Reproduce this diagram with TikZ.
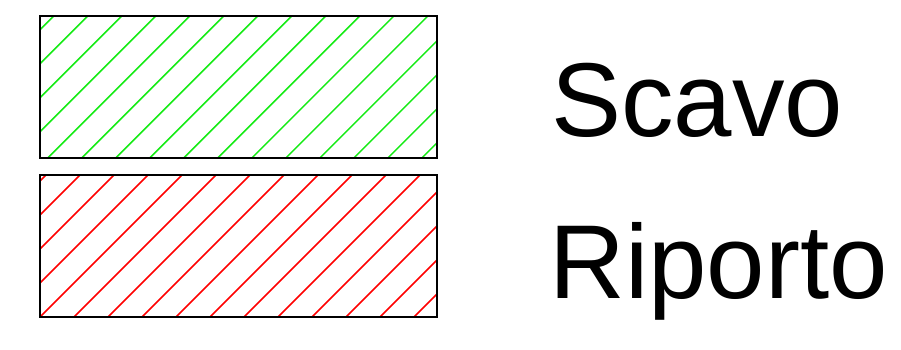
\documentclass[tikz,border=0pt]{standalone}
\usepackage{fontspec}
\setmainfont{Liberation Sans}
\definecolor{hatchgreen}{RGB}{20,235,20}
\definecolor{hatchred}{RGB}{255,0,0}
\tikzset{
  frame/.style={draw=black,line width=2pt},
  hatchline/.style={line width=1.5pt},
  legendtext/.style={font=\fontsize{105}{110}\selectfont,anchor=base west,inner sep=0pt}
}
\begin{document}
\begin{tikzpicture}[x=1pt,y=-1pt]
\useasboundingbox (0,0) rectangle (901,349);
% top rectangle (Scavo)
\begin{scope}
  \clip (40,16) rectangle (437,158);
  \foreach \k in {1,...,18}{
    \pgfmathsetmacro{\c}{1.8+34*\k}
    \draw[hatchline,hatchgreen] ({\c-10},10) -- ({\c-165},165);
  }
\end{scope}
\draw[frame] (40,16) rectangle (437,158);
% bottom rectangle (Riporto)
\begin{scope}
  \clip (40,174.5) rectangle (437,317);
  \foreach \k in {5,...,23}{
    \pgfmathsetmacro{\c}{17+34*\k}
    \draw[hatchline,hatchred] ({\c-170},170) -- ({\c-325},325);
  }
\end{scope}
\draw[frame] (40,174.5) rectangle (437,317);
\node[legendtext] (scavo) at (551,136.7) {Scavo};
\node[legendtext] (riporto) at (549,298.3) {Riporto};
\end{tikzpicture}
\end{document}
